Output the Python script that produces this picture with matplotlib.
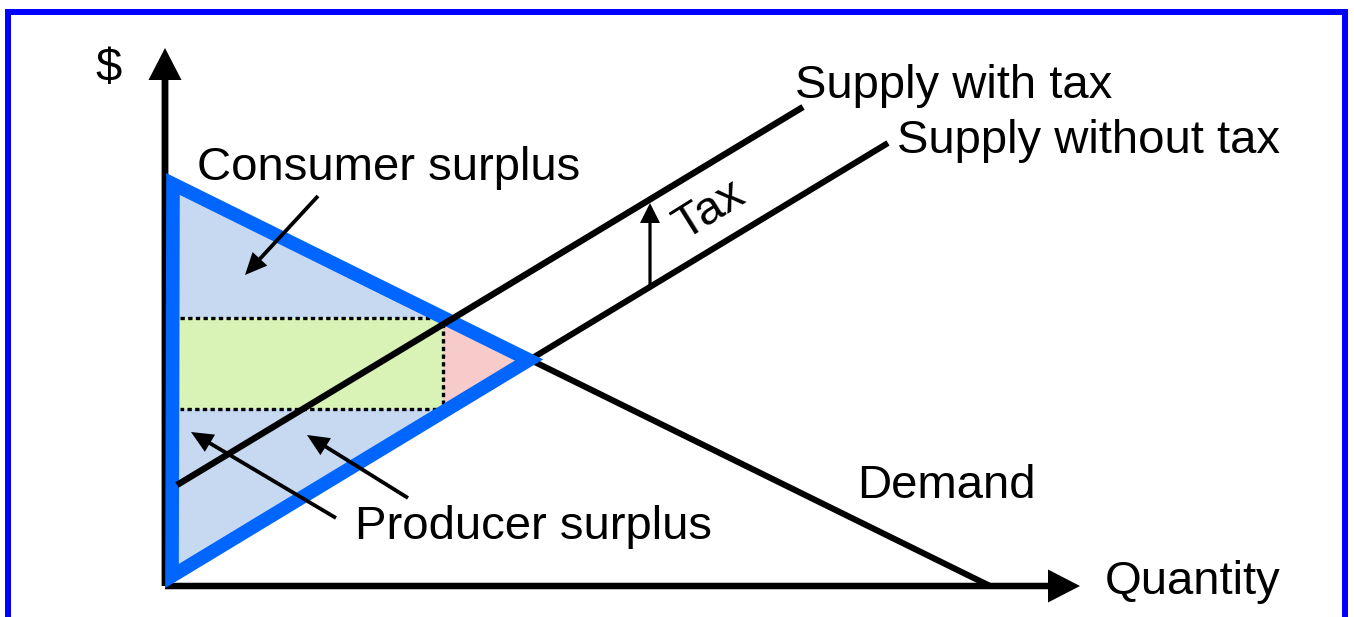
import matplotlib
matplotlib.use("Agg")
import matplotlib.pyplot as plt
from matplotlib.patches import Polygon, Rectangle

plt.rcParams['font.family'] = ['Liberation Sans', 'DejaVu Sans']

# ---- data (quantity, price) in chart units ----
demand_q = [8, 825]
demand_p = [402, 0]

supply_q = [7, 723]
supply_p = [10, 443]

supply_tax_q = [12, 638]
supply_tax_p = [101, 479]

# total surplus triangle (before tax)
surplus_q = [8, 364, 7]
surplus_p = [402, 226, 10]

# tax revenue rectangle
revenue_q = [15, 278]
revenue_p = [177, 268]

# deadweight loss triangle
dwl_q = [278, 278, 364]
dwl_p = [269, 174, 226]

# tax arrow (quantity, from price, to price)
tax_arrow_q = 485
tax_arrow_p = [301, 383]

# annotation arrows: (q0, p0, q1, p1)
cs_arrow = [153, 390, 80, 311]
ps_arrows = [[171, 68, 26, 154], [243, 88, 142, 151]]

# axis extents
q_axis_end = 915
p_axis_end = 538

labels = {
    "$": (-70, 505),
    "Supply with tax": (630, 488),
    "Supply without tax": (732, 433),
    "Consumer surplus": (32, 406),
    "Demand": (692, 88),
    "Producer surplus": (190, 47),
    "Quantity": (940, -8),
}

# ---- figure ----
fig = plt.figure(figsize=(13.54, 6.17), dpi=100)
ax = fig.add_axes([0, 0, 1, 1])
ax.set_xlim(-165, 1189)
ax.set_ylim(-31, 586)
ax.axis('off')

BLUE_LINE = '#0066FF'
BLUE_FILL = '#C6D9F1'
GREEN = '#D9F3B6'
PINK = '#F8CBCB'
FS = 34

# page border
border = Rectangle((8 / 1354, -0.2), (1345 - 8) / 1354, 1.2 - 12 / 617,
                   transform=fig.transFigure, fill=False, edgecolor='#0000FF',
                   linewidth=4.3, clip_on=False, zorder=0)
fig.patches.append(border)

# fills
ax.add_patch(Polygon(list(zip(surplus_q, surplus_p)), closed=True,
                     facecolor=BLUE_FILL, edgecolor='none', zorder=1))
rq0, rq1 = revenue_q
rp0, rp1 = revenue_p
ax.add_patch(Rectangle((rq0, rp0), rq1 - rq0, rp1 - rp0,
                       facecolor=GREEN, edgecolor='none', zorder=2))
ax.add_patch(Polygon(list(zip(dwl_q, dwl_p)), closed=True,
                     facecolor=PINK, edgecolor='none', zorder=2))

# dotted revenue border
ax.plot([rq0, rq1, rq1, rq0], [rp1, rp1, rp0, rp0], color='black',
        linewidth=2.4, linestyle=(0, (1.3, 1.0)), zorder=3)

# axes
ax.arrow(0, 0, 0, p_axis_end, width=6.8, head_width=33, head_length=32,
         length_includes_head=True, fc='black', ec='none', zorder=3)
ax.arrow(0, 0, q_axis_end, 0, width=6.5, head_width=33, head_length=32,
         length_includes_head=True, fc='black', ec='none', zorder=3)

# demand & supply
ax.plot(demand_q, demand_p, color='black', linewidth=4.4, solid_capstyle='butt', zorder=4)
ax.plot(supply_q, supply_p, color='black', linewidth=4.4, solid_capstyle='butt', zorder=4)

# surplus outline
ax.add_patch(Polygon(list(zip(surplus_q, surplus_p)), closed=True,
                     facecolor='none', edgecolor=BLUE_LINE, linewidth=9.8,
                     joinstyle='miter', zorder=5))

# supply with tax on top
ax.plot(supply_tax_q, supply_tax_p, color='black', linewidth=4.6,
        solid_capstyle='butt', zorder=6)

# tax arrow
ax.arrow(tax_arrow_q, tax_arrow_p[0], 0, tax_arrow_p[1] - tax_arrow_p[0],
         width=3.2, head_width=20, head_length=20, length_includes_head=True,
         fc='black', ec='none', zorder=6)
ax.text(545, 376, "Tax", fontsize=FS, rotation=32, ha='center', va='center',
        rotation_mode='anchor', zorder=7)

# annotation arrows
for q0, p0, q1, p1 in [cs_arrow] + ps_arrows:
    ax.arrow(q0, p0, q1 - q0, p1 - p0, width=3.8, head_width=20, head_length=22,
             length_includes_head=True, fc='black', ec='none', zorder=7)

# labels
for txt, (x, y) in labels.items():
    ax.text(x, y, txt, fontsize=FS, ha='left', va='baseline', zorder=8)

fig.savefig('out.png', dpi=100)
